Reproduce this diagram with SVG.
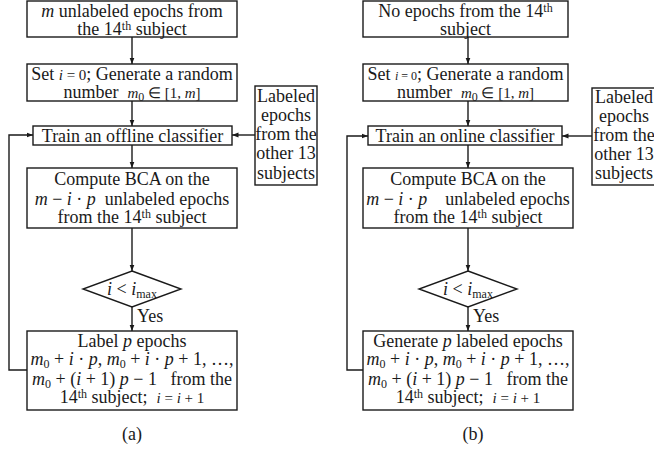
<svg xmlns="http://www.w3.org/2000/svg" width="654" height="449" viewBox="0 0 654 449">
<style>
.b{fill:#fff;stroke:#1a1a1a;stroke-width:1.4}
.c{fill:none;stroke:#1a1a1a;stroke-width:1.4}
.t{font-family:"Liberation Serif","Times New Roman",serif;font-size:18px;fill:#1a1a1a;text-anchor:middle}
.i{font-style:italic}
.s{font-size:12px}
.m{font-size:15px}
</style>
<defs>
<marker id="ah" markerWidth="7" markerHeight="6" refX="6.5" refY="3" orient="auto" markerUnits="userSpaceOnUse">
<path d="M0,0.5 L6.5,3 L0,5.5 Z" fill="#1a1a1a"/>
</marker>
</defs>
<rect width="654" height="449" fill="#fff"/>

<g id="connectors">
<line class="c" x1="132" y1="37" x2="132" y2="64" marker-end="url(#ah)"/>
<line class="c" x1="132" y1="101" x2="132" y2="126" marker-end="url(#ah)"/>
<line class="c" x1="255" y1="135" x2="232" y2="135" marker-end="url(#ah)"/>
<line class="c" x1="132" y1="145" x2="132" y2="168" marker-end="url(#ah)"/>
<line class="c" x1="132" y1="228" x2="132" y2="271" marker-end="url(#ah)"/>
<line class="c" x1="132" y1="307" x2="132" y2="331" marker-end="url(#ah)"/>
<polyline class="c" points="27,370 9,370 9,135 33,135" marker-end="url(#ah)"/>

<line class="c" x1="468" y1="37" x2="468" y2="64" marker-end="url(#ah)"/>
<line class="c" x1="468" y1="101" x2="468" y2="126" marker-end="url(#ah)"/>
<line class="c" x1="592" y1="136" x2="562" y2="136" marker-end="url(#ah)"/>
<line class="c" x1="468" y1="145" x2="468" y2="168" marker-end="url(#ah)"/>
<line class="c" x1="468" y1="228" x2="468" y2="271" marker-end="url(#ah)"/>
<line class="c" x1="468" y1="307" x2="468" y2="331" marker-end="url(#ah)"/>
<polyline class="c" points="363,370 347,370 347,136 368,136" marker-end="url(#ah)"/>
</g>

<!-- Panel (a) -->
<g id="a1">
<rect class="b" x="27" y="1" width="210" height="36"/>
<text class="t" x="132" y="17"><tspan class="i">m</tspan> unlabeled epochs from</text>
<text class="t" x="132" y="35">the 14<tspan class="s" dy="-5">th</tspan><tspan dy="5"> subject</tspan></text>
</g>
<g id="a2">
<rect class="b" x="27" y="64" width="210" height="37"/>
<text class="t" x="132" y="80">Set <tspan class="m"><tspan class="i">i</tspan> = 0</tspan>; Generate a random</text>
<text class="t" x="132" y="98" xml:space="preserve">number  <tspan class="m"><tspan class="i">m</tspan><tspan class="s" dy="3">0</tspan><tspan dy="-3"> ∈ [1, </tspan><tspan class="i">m</tspan>]</tspan></text>
</g>
<g id="a3">
<rect class="b" x="33" y="126" width="199" height="19"/>
<text class="t" x="132.5" y="142">Train an offline classifier</text>
</g>
<g id="a4">
<rect class="b" x="255" y="86" width="62" height="99"/>
<text class="t" x="286" y="102">Labeled</text>
<text class="t" x="286" y="121">epochs</text>
<text class="t" x="286" y="140">from the</text>
<text class="t" x="286" y="159">other 13</text>
<text class="t" x="286" y="179">subjects</text>
</g>
<g id="a5">
<rect class="b" x="27" y="168" width="210" height="60"/>
<text class="t" x="132" y="185">Compute BCA on the</text>
<text class="t" x="132" y="205" xml:space="preserve"><tspan class="i">m</tspan> − <tspan class="i">i</tspan> · <tspan class="i">p</tspan>  unlabeled epochs</text>
<text class="t" x="132" y="223">from the 14<tspan class="s" dy="-5">th</tspan><tspan dy="5"> subject</tspan></text>
</g>
<g id="a6">
<polygon class="b" points="132,271 181,289 132,307 83,289"/>
<text class="t" x="132" y="295"><tspan class="i">i</tspan> &lt; <tspan class="i">i</tspan><tspan class="s" dy="3">max</tspan></text>
</g>
<text class="t" x="137" y="322" style="text-anchor:start">Yes</text>
<g id="a7">
<rect class="b" x="27" y="331" width="210" height="79"/>
<text class="t" x="132" y="347">Label <tspan class="i">p</tspan> epochs</text>
<text class="t" x="132" y="365"><tspan class="i">m</tspan><tspan class="s" dy="3">0</tspan><tspan dy="-3"> + </tspan><tspan class="i">i</tspan> · <tspan class="i">p</tspan>, <tspan class="i">m</tspan><tspan class="s" dy="3">0</tspan><tspan dy="-3"> + </tspan><tspan class="i">i</tspan> · <tspan class="i">p</tspan> + 1, …,</text>
<text class="t" x="132" y="385" xml:space="preserve"><tspan class="i">m</tspan><tspan class="s" dy="3">0</tspan><tspan dy="-3"> + (</tspan><tspan class="i">i</tspan> + 1) <tspan class="i">p</tspan> − 1   from the</text>
<text class="t" x="132" y="403" xml:space="preserve">14<tspan class="s" dy="-5">th</tspan><tspan dy="5"> subject;  </tspan><tspan class="m"><tspan class="i">i</tspan> = <tspan class="i">i</tspan> + 1</tspan></text>
</g>
<text class="t" x="132" y="440">(a)</text>

<!-- Panel (b) -->
<g id="b1">
<rect class="b" x="363" y="1" width="205" height="36"/>
<text class="t" x="465.5" y="17">No epochs from the 14<tspan class="s" dy="-5">th</tspan></text>
<text class="t" x="465.5" y="35">subject</text>
</g>
<g id="b2">
<rect class="b" x="363" y="64" width="205" height="37"/>
<text class="t" x="465.5" y="80">Set <tspan class="s"><tspan class="i">i</tspan> = 0</tspan>; Generate a random</text>
<text class="t" x="465.5" y="98" xml:space="preserve">number  <tspan class="m"><tspan class="i">m</tspan><tspan class="s" dy="3">0</tspan><tspan dy="-3"> ∈ [1, </tspan><tspan class="i">m</tspan>]</tspan></text>
</g>
<g id="b3">
<rect class="b" x="368" y="126" width="194" height="19"/>
<text class="t" x="465" y="142">Train an online classifier</text>
</g>
<g id="b4">
<rect class="b" x="592" y="88" width="66" height="97"/>
<text class="t" x="624" y="103">Labeled</text>
<text class="t" x="624" y="122">epochs</text>
<text class="t" x="624" y="141">from the</text>
<text class="t" x="624" y="160">other 13</text>
<text class="t" x="624" y="179">subjects</text>
</g>
<g id="b5">
<rect class="b" x="363" y="168" width="210" height="60"/>
<text class="t" x="468" y="185">Compute BCA on the</text>
<text class="t" x="468" y="205" xml:space="preserve"><tspan class="i">m</tspan> − <tspan class="i">i</tspan> · <tspan class="i">p</tspan>    unlabeled epochs</text>
<text class="t" x="468" y="223">from the 14<tspan class="s" dy="-5">th</tspan><tspan dy="5"> subject</tspan></text>
</g>
<g id="b6">
<polygon class="b" points="468,271 517,289 468,307 419,289"/>
<text class="t" x="468" y="295"><tspan class="i">i</tspan> &lt; <tspan class="i">i</tspan><tspan class="s" dy="3">max</tspan></text>
</g>
<text class="t" x="473" y="322" style="text-anchor:start">Yes</text>
<g id="b7">
<rect class="b" x="363" y="331" width="210" height="79"/>
<text class="t" x="468" y="347">Generate <tspan class="i">p</tspan> labeled epochs</text>
<text class="t" x="468" y="365"><tspan class="i">m</tspan><tspan class="s" dy="3">0</tspan><tspan dy="-3"> + </tspan><tspan class="i">i</tspan> · <tspan class="i">p</tspan>, <tspan class="i">m</tspan><tspan class="s" dy="3">0</tspan><tspan dy="-3"> + </tspan><tspan class="i">i</tspan> · <tspan class="i">p</tspan> + 1, …,</text>
<text class="t" x="468" y="385" xml:space="preserve"><tspan class="i">m</tspan><tspan class="s" dy="3">0</tspan><tspan dy="-3"> + (</tspan><tspan class="i">i</tspan> + 1) <tspan class="i">p</tspan> − 1   from the</text>
<text class="t" x="468" y="403" xml:space="preserve">14<tspan class="s" dy="-5">th</tspan><tspan dy="5"> subject;  </tspan><tspan class="m"><tspan class="i">i</tspan> = <tspan class="i">i</tspan> + 1</tspan></text>
</g>
<text class="t" x="473" y="440">(b)</text>
</svg>
